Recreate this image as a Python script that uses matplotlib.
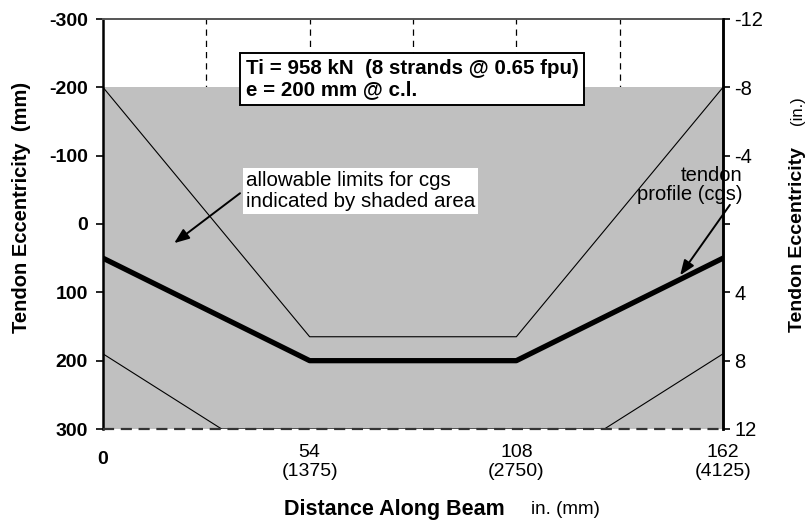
import numpy as np
import matplotlib
matplotlib.use("Agg")
import matplotlib.pyplot as plt

plt.rcParams['font.family'] = ['Liberation Sans', 'DejaVu Sans']

# ---------------------------------------------------------------------------
# data (distance in inches, eccentricity in mm, positive = below centroid)
# ---------------------------------------------------------------------------
x_profile = [0, 54, 108, 162]
e_profile = [50, 200, 200, 50]

x_upper = [0, 54, 108, 162]
e_upper = [-200, 165, 165, -200]

x_lower = [0, 31, 131, 162]
e_lower = [190, 300, 300, 190]

shade_x = [0, 162]
shade_top = -200
shade_bottom = 300

x_ticks = [54, 108, 162]
x_ticklabels = ['54\n(1375)', '108\n(2750)', '162\n(4125)']
grid_x = [27, 54, 81, 108, 135]

y_ticks_mm = [-300, -200, -100, 0, 100, 200, 300]
y_ticks_in = [-12, -8, -4, 0, 4, 8, 12]
y_ticklabels_in = ['-12', '-8', '-4', '', '4', '8', '12']

W, H = 808, 521
fig = plt.figure(figsize=(W / 100, H / 100), dpi=100)
ax = fig.add_axes([103 / W, 1 - 429 / H, 620 / W, 410 / H])

# dashed vertical gridlines (only visible above the shaded area)
for gx in grid_x:
    ax.axvline(gx, color='black', lw=0.9, ls=(0, (5, 4)), zorder=0)

ax.fill_between(shade_x, shade_top, shade_bottom, color='#c0c0c0', lw=0, zorder=1)

ax.plot(x_upper, e_upper, color='black', lw=0.8, zorder=3)
ax.plot(x_lower, e_lower, color='black', lw=0.8, zorder=3)
ax.plot(x_profile, e_profile, color='black', lw=3.8, zorder=4)

ax.axhline(300, color='#333333', lw=1.6, ls=(0, (5, 3)), zorder=5, clip_on=False)

ax.set_xlim(0, 162)
ax.set_ylim(300, -300)
ax.set_yticks(y_ticks_mm)
ax.set_yticklabels([str(v) for v in y_ticks_mm], fontweight='bold', fontsize=14)
ax.tick_params(axis='y', length=5, width=1.2, pad=6)
ax.set_xticks(x_ticks)
ax.set_xticklabels(x_ticklabels, fontsize=14, linespacing=1.15)
ax.tick_params(axis='x', length=0, pad=11)
ax.text(0, -0.075, '0', transform=ax.get_xaxis_transform(), ha='center',
        va='center', fontsize=14, fontweight='bold')

ax.spines['bottom'].set_visible(False)
ax.spines['top'].set_color('#555555')
ax.spines['top'].set_linewidth(1.4)
ax.spines['left'].set_linewidth(1.8)
ax.spines['right'].set_linewidth(1.8)

ax2 = ax.twinx()
ax2.set_ylim(12, -12)
ax2.set_yticks(y_ticks_in)
ax2.set_yticklabels(y_ticklabels_in, fontsize=14.5)
ax2.tick_params(axis='y', length=5, width=1.2, pad=3)
for s in ['top', 'bottom', 'left']:
    ax2.spines[s].set_visible(False)
ax2.spines['right'].set_linewidth(1.8)

# annotations
ax.text(37.3, -212, 'Ti = 958 kN  (8 strands @ 0.65 fpu)\ne = 200 mm @ c.l.',
        ha='left', va='center', fontsize=14.8, fontweight='bold', zorder=6,
        linespacing=1.15,
        bbox=dict(boxstyle='square,pad=0.28', fc='white', ec='black', lw=1.4))

ax.text(37.3, -48, 'allowable limits for cgs\nindicated by shaded area',
        ha='left', va='center', fontsize=14.8, linespacing=1.15, zorder=6,
        bbox=dict(boxstyle='square,pad=0.15', fc='white', ec='none'))
ax.annotate('', xy=(18.6, 28), xytext=(35.8, -45),
            arrowprops=dict(arrowstyle='-|>,head_length=0.9,head_width=0.35',
                            color='black', lw=1.4, shrinkA=0, shrinkB=0),
            zorder=6)

ax.annotate('', xy=(150.8, 75), xytext=(163.8, -28),
            arrowprops=dict(arrowstyle='-|>,head_length=0.9,head_width=0.35',
                            color='black', lw=1.4, shrinkA=0, shrinkB=0),
            annotation_clip=False, zorder=6)
ax.text(167, -57, 'tendon\nprofile (cgs)', ha='right', va='center', fontsize=14.5,
        linespacing=1.05, zorder=6)

# axis titles
fig.text(22 / W, 1 - 207 / H, 'Tendon Eccentricity  (mm)', rotation=90,
         ha='center', va='center', fontsize=14.5, fontweight='bold')
fig.text(798 / W, 1 - 240 / H, 'Tendon Eccentricity', rotation=90,
         ha='center', va='center', fontsize=14, fontweight='bold')
fig.text(797 / W, 1 - 111 / H, '(in.)', rotation=90,
         ha='center', va='center', fontsize=12)
fig.text(394 / W, 1 - 510 / H, 'Distance Along Beam', ha='center', va='center',
         fontsize=15.5, fontweight='bold')
fig.text(565 / W, 1 - 510 / H, 'in. (mm)', ha='center', va='center', fontsize=13.5)

fig.savefig('out.png', dpi=100)
